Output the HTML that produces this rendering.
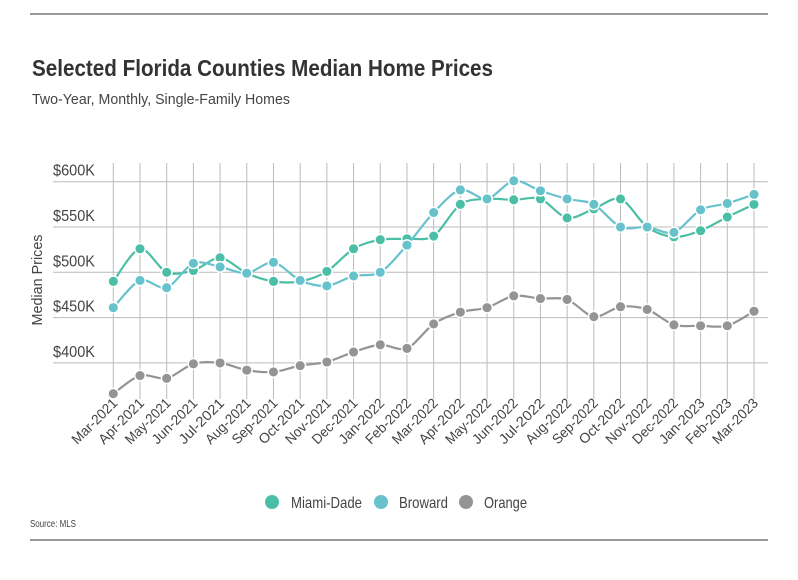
<!DOCTYPE html>
<html><head><meta charset="utf-8"><style>
body{margin:0;background:#fff;}
svg text{font-family:"Liberation Sans",sans-serif;fill:#444;}
</style></head><body>
<svg width="798" height="575" xmlns="http://www.w3.org/2000/svg">
<line x1="30" y1="14" x2="768" y2="14" stroke="#333" stroke-width="1"/>
<line x1="30" y1="540" x2="768" y2="540" stroke="#333" stroke-width="1"/>
<text x="32" y="76" font-size="23" font-weight="bold" style="fill:#333" textLength="461" lengthAdjust="spacingAndGlyphs">Selected Florida Counties Median Home Prices</text>
<text x="32" y="104" font-size="15" textLength="258" lengthAdjust="spacingAndGlyphs">Two-Year, Monthly, Single-Family Homes</text>
<text transform="translate(42,280) rotate(-90)" text-anchor="middle" font-size="15" textLength="91" lengthAdjust="spacingAndGlyphs">Median Prices</text>
<g id="grid"></g><g id="yl"></g><g id="xl"></g><g id="series"></g>
<g>
<g><circle cx="272" cy="502" r="7" fill="#4bbfa5"/><text x="291" y="508" font-size="16" textLength="71" lengthAdjust="spacingAndGlyphs">Miami-Dade</text></g>
<g><circle cx="381" cy="502" r="7" fill="#67c2cc"/><text x="399" y="508" font-size="16" textLength="49" lengthAdjust="spacingAndGlyphs">Broward</text></g>
<g><circle cx="466" cy="502" r="7" fill="#949494"/><text x="484" y="508" font-size="16" textLength="43" lengthAdjust="spacingAndGlyphs">Orange</text></g>
</g>
<text x="30" y="527" font-size="10" textLength="46" lengthAdjust="spacingAndGlyphs">Source:  MLS</text>
</svg>
<script>
const categories=["Mar-2021","Apr-2021","May-2021","Jun-2021","Jul-2021","Aug-2021","Sep-2021","Oct-2021","Nov-2021","Dec-2021","Jan-2022","Feb-2022","Mar-2022","Apr-2022","May-2022","Jun-2022","Jul-2022","Aug-2022","Sep-2022","Oct-2022","Nov-2022","Dec-2022","Jan-2023","Feb-2023","Mar-2023"];
const miamiDade=[490,526,500,502,516,499,490,490,501,526,536,537,540,575,581,580,581,560,570,581,550,539,546,561,575];
const broward=[461,491,483,510,506,499,511,491,485,496,500,530,566,591,581,601,590,581,575,550,550,544,569,576,586];
const orange=[366,386,383,399,400,392,390,397,401,412,420,416,443,456,461,474,471,470,451,462,459,442,441,441,457];
const yTicks=[400,450,500,550,600];
const yTickLabels=["$400K","$450K","$500K","$550K","$600K"];
const NS="http://www.w3.org/2000/svg";
const x=i=>113.3+i*(754-113.3)/(categories.length-1);
const y=v=>181.7+(600-v)*45.3/50;
function mk(t,a,p){const e=document.createElementNS(NS,t);for(const k in a)e.setAttribute(k,a[k]);p.appendChild(e);return e;}
const grid=document.getElementById('grid');
categories.forEach((c,i)=>{const l=mk('line',{x1:x(i),x2:x(i),y1:163,y2:399,stroke:'#bbb','stroke-width':1},grid);


const t=mk('text',{transform:`translate(${x(i)+5},404) rotate(-45)`,'text-anchor':'end','font-size':14},document.getElementById('xl'));t.textContent=c;
t.setAttribute('textLength',c.length>8?62:58);
t.setAttribute('lengthAdjust','spacingAndGlyphs');

});
yTicks.forEach((v,i)=>{const l=mk('line',{x1:53,x2:768,y1:y(v),y2:y(v),stroke:'#bbb','stroke-width':1},grid);


const t=mk('text',{x:53,y:y(v)-6,'font-size':16,textLength:42,lengthAdjust:'spacingAndGlyphs'},document.getElementById('yl'));t.textContent=yTickLabels[i];

});
function path(vals){const p=vals.map((v,i)=>[x(i),y(v)]);let d=`M${p[0][0]},${p[0][1]}`;
for(let i=0;i<p.length-1;i++){const p0=p[i-1]||p[i],p1=p[i],p2=p[i+1],p3=p[i+2]||p2;const k=0.15;
d+=`C${p1[0]+(p2[0]-p0[0])*k},${p1[1]+(p2[1]-p0[1])*k} ${p2[0]-(p3[0]-p1[0])*k},${p2[1]-(p3[1]-p1[1])*k} ${p2[0]},${p2[1]}`;}return d;}
const S=document.getElementById('series');
[["orange",orange,"#949494"],["miami-dade",miamiDade,"#4bbfa5"],["broward",broward,"#67c2cc"]].forEach(([n,vals,col])=>{
const g=mk('g',{},S);


mk('path',{d:path(vals),fill:'none',stroke:col,'stroke-width':2.2},g);
vals.forEach((v,i)=>{const c=mk('circle',{cx:x(i),cy:y(v),r:5.3,fill:col,stroke:'#fff','stroke-width':1.5},g);

});});
</script>
</body></html>
